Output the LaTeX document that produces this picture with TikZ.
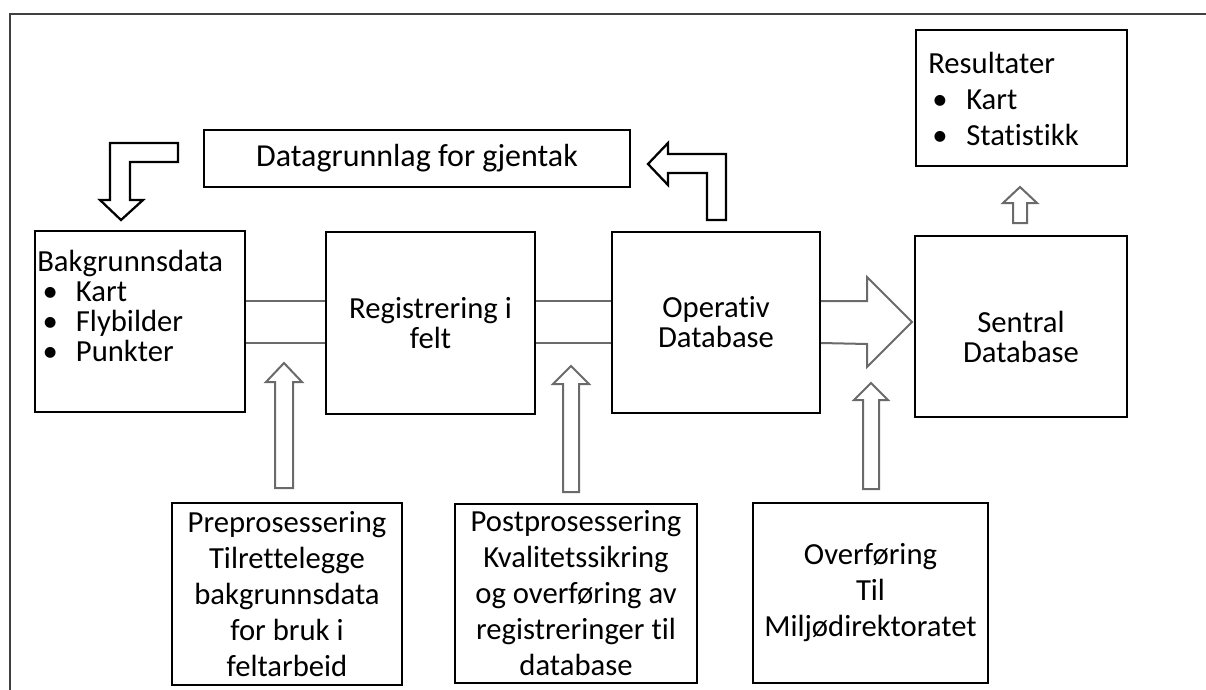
\documentclass[tikz,border=0pt]{standalone}
\usepackage{fontspec}
\setmainfont{Carlito}[Ligatures={NoCommon,TeX}]
\definecolor{arrgray}{HTML}{6A6A6A}
\definecolor{framecol}{HTML}{404040}
\begin{document}
\begin{tikzpicture}[x=0.75pt,y=-0.75pt,
  box/.style={draw=black, line width=1.8pt, rectangle, inner sep=0pt, align=center},
  bigtxt/.style={font=\fontsize{23}{27}\selectfont},
  midtxt/.style={font=\fontsize{23}{22.5}\selectfont},
  garrow/.style={draw=arrgray, line width=1.5pt, fill=white, line join=miter},
  barrow/.style={draw=black, line width=1.7pt, fill=white, line join=miter},
  gline/.style={draw=arrgray, line width=1.5pt}]
\useasboundingbox (0,0) rectangle (1206,689);
\fill[white] (0,0) rectangle (1206,689);
% open frame
\draw[framecol, line width=1.5pt] (10,700) -- (10,14) -- (1206,14);

% main row boxes
\node[box, minimum width={210*0.75pt}, minimum height={181*0.75pt}] (bak) at (140,321.5) {};
\node[midtxt, anchor=west, align=left, inner sep=0pt] (bakT) at (37,306)
  {Bakgrunnsdata\\\hspace*{4pt}\makebox[25pt][l]{•}Kart\\\hspace*{4pt}\makebox[25pt][l]{•}Flybilder\\\hspace*{4pt}\makebox[25pt][l]{•}Punkter};
\node[box, midtxt, minimum width={209*0.75pt}, minimum height={182*0.75pt}] (reg) at (430.5,323) {Registrering i\\felt};
\node[box, midtxt, minimum width={208*0.75pt}, minimum height={181*0.75pt}] (op) at (716,322.5) {Operativ\\Database};
\node[box, minimum width={212*0.75pt}, minimum height={181*0.75pt}] (sen) at (1021,326.5) {};
\node[midtxt, align=center, inner sep=0pt] (senT) at (1021,337) {Sentral\\Database};

% top boxes
\node[box, minimum width={211*0.75pt}, minimum height={136*0.75pt}] (res) at (1021.5,98) {};
\node[bigtxt, anchor=west, align=left, inner sep=0pt] (resT) at (928,99)
  {Resultater\\\hspace*{3pt}\makebox[25.5pt][l]{•}Kart\\\hspace*{3pt}\makebox[25.5pt][l]{•}Statistikk};
\node[box, font=\fontsize{24}{27}\selectfont, minimum width={426*0.75pt}, minimum height={57*0.75pt}] (dat) at (417,158.5) {Datagrunnlag for gjentak};

% bottom boxes
\node[box, bigtxt, minimum width={230*0.75pt}, minimum height={182*0.75pt}] (pre) at (287,594)
  {Preprosessering\\Tilrettelegge\\bakgrunnsdata\\for bruk i\\feltarbeid};
\node[box, bigtxt, minimum width={242*0.75pt}, minimum height={179*0.75pt}] (post) at (576,593.5)
  {Postprosessering\\Kvalitetssikring\\og overføring av\\registreringer til\\database};
\node[box, bigtxt, minimum width={235*0.75pt}, minimum height={180*0.75pt}] (over) at (870.5,593)
  {Overføring\\Til\\Miljødirektoratet};

% helper levels
\coordinate (yA) at (0,301);
\coordinate (yB) at (0,343);
\coordinate (tipS) at (912,322);

% double-line connectors
\draw[gline] (bak.east |- yA) -- (reg.west |- yA);
\draw[gline] (bak.east |- yB) -- (reg.west |- yB);
\draw[gline] (reg.east |- yA) -- (op.west |- yA);
\draw[gline] (reg.east |- yB) -- (op.west |- yB);

% big block arrow op -> sen
\draw[garrow] (op.east |- yA) -- (867,301) -- (867,277) -- (tipS) -- (867,367) -- (867,344) -- (op.east |- yB);

% bottom block arrows
\draw[garrow] (275,488) -- (275,382) -- (266,382) -- (284,363) -- (302,382) -- (293,382) -- (293,488) -- cycle;
\draw[garrow] (563,492) -- (563,384) -- (553,384) -- (571,366) -- (589,384) -- (579,384) -- (579,492) -- cycle;
\draw[garrow] (863,489) -- (863,400) -- (854,400) -- (871,383) -- (888,400) -- (879,400) -- (879,489) -- cycle;
% sen -> res
\draw[garrow] (1013,223) -- (1013,203) -- (1003,203) -- (1020,187) -- (1037,203) -- (1027,203) -- (1027,223) -- cycle;

% black bent arrows
\draw[barrow] (178,143) -- (110,143) -- (110,200) -- (100,200) -- (121,220) -- (143,200) -- (130,200) -- (130,162) -- (178,162) -- cycle;
\draw[barrow] (648,164) -- (668,143) -- (668,154) -- (726,154) -- (726,220) -- (707,220) -- (707,173) -- (668,173) -- (668,185) -- cycle;
\end{tikzpicture}
\end{document}
